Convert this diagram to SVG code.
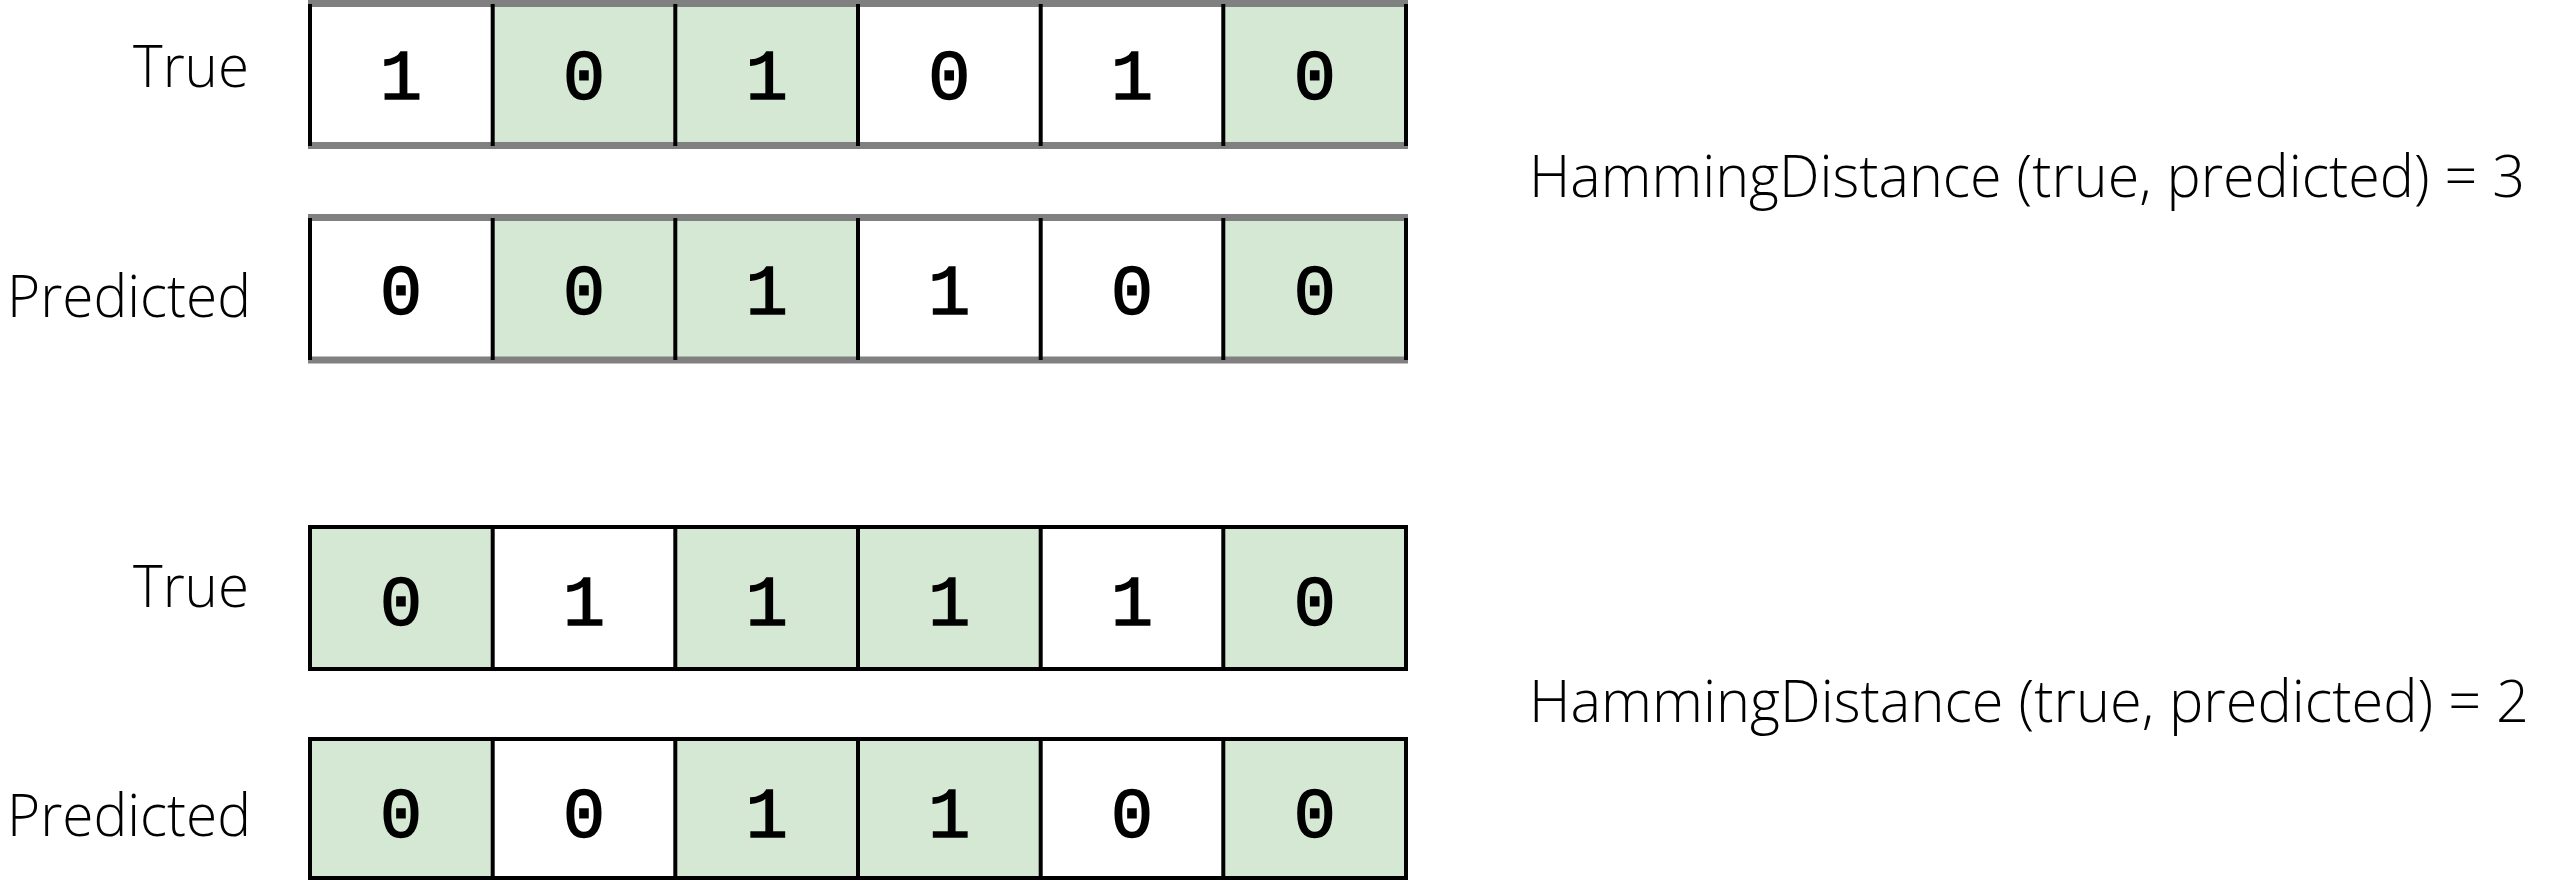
<svg xmlns="http://www.w3.org/2000/svg" width="2570" height="884" viewBox="0 0 2570 884">
<style>
.lbl{font-family:"Open Sans","Noto Sans","Liberation Sans",sans-serif;font-weight:300;font-size:58px;fill:#000}
.dig{font-family:"Liberation Mono","DejaVu Sans Mono",monospace;font-weight:normal;font-size:70px;fill:#000;stroke:#000;stroke-width:1.6;text-anchor:middle}
.g{fill:#d5e8d4}
.w{fill:#ffffff}
.vsep{stroke:#000;stroke-width:4}
.hg{stroke:#808080;stroke-width:7}
.box2{fill:none;stroke:#000;stroke-width:4}
</style>
<rect width="2570" height="884" fill="#fff"/>

<g id="group1-true">
<rect class="w" x="310" y="4" width="182.7" height="142"/>
<rect class="g" x="492.7" y="4" width="182.6" height="142"/>
<rect class="g" x="675.3" y="4" width="182.7" height="142"/>
<rect class="w" x="858" y="4" width="182.7" height="142"/>
<rect class="w" x="1040.7" y="4" width="182.6" height="142"/>
<rect class="g" x="1223.3" y="4" width="182.7" height="142"/>
<line class="hg" x1="308" y1="3.5" x2="1408" y2="3.5"/>
<line class="hg" x1="308" y1="145.5" x2="1408" y2="145.5"/>
<line class="vsep" x1="310" y1="4" x2="310" y2="146"/>
<line class="vsep" x1="492.7" y1="4" x2="492.7" y2="146"/>
<line class="vsep" x1="675.3" y1="4" x2="675.3" y2="146"/>
<line class="vsep" x1="858" y1="4" x2="858" y2="146"/>
<line class="vsep" x1="1040.7" y1="4" x2="1040.7" y2="146"/>
<line class="vsep" x1="1223.3" y1="4" x2="1223.3" y2="146"/>
<line class="vsep" x1="1406" y1="4" x2="1406" y2="146" stroke="#333"/>
<text class="lbl" x="133" y="87" textLength="116" lengthAdjust="spacingAndGlyphs">True</text>
<text class="dig" x="401" y="99">1</text>
<text class="dig" x="584" y="99">0</text>
<text class="dig" x="766.7" y="99">1</text>
<text class="dig" x="949.3" y="99">0</text>
<text class="dig" x="1132" y="99">1</text>
<text class="dig" x="1314.7" y="99">0</text>
</g>

<g id="group1-predicted">
<rect class="w" x="310" y="218" width="182.7" height="142"/>
<rect class="g" x="492.7" y="218" width="182.6" height="142"/>
<rect class="g" x="675.3" y="218" width="182.7" height="142"/>
<rect class="w" x="858" y="218" width="182.7" height="142"/>
<rect class="w" x="1040.7" y="218" width="182.6" height="142"/>
<rect class="g" x="1223.3" y="218" width="182.7" height="142"/>
<line class="hg" x1="308" y1="217.5" x2="1408" y2="217.5"/>
<line class="hg" x1="308" y1="360" x2="1408" y2="360"/>
<line class="vsep" x1="310" y1="218" x2="310" y2="360"/>
<line class="vsep" x1="492.7" y1="218" x2="492.7" y2="360"/>
<line class="vsep" x1="675.3" y1="218" x2="675.3" y2="360"/>
<line class="vsep" x1="858" y1="218" x2="858" y2="360"/>
<line class="vsep" x1="1040.7" y1="218" x2="1040.7" y2="360"/>
<line class="vsep" x1="1223.3" y1="218" x2="1223.3" y2="360"/>
<line class="vsep" x1="1406" y1="218" x2="1406" y2="360" stroke="#333"/>
<text class="lbl" x="7" y="317" textLength="244" lengthAdjust="spacingAndGlyphs">Predicted</text>
<text class="dig" x="401" y="314">0</text>
<text class="dig" x="584" y="314">0</text>
<text class="dig" x="766.7" y="314">1</text>
<text class="dig" x="949.3" y="314">1</text>
<text class="dig" x="1132" y="314">0</text>
<text class="dig" x="1314.7" y="314">0</text>
</g>

<g id="result1">
<text class="lbl" x="1529" y="197" textLength="996" lengthAdjust="spacingAndGlyphs">HammingDistance (true, predicted) = 3</text>
</g>

<g id="group2-true">
<rect class="g" x="310" y="527" width="182.7" height="142"/>
<rect class="w" x="492.7" y="527" width="182.6" height="142"/>
<rect class="g" x="675.3" y="527" width="182.7" height="142"/>
<rect class="g" x="858" y="527" width="182.7" height="142"/>
<rect class="w" x="1040.7" y="527" width="182.6" height="142"/>
<rect class="g" x="1223.3" y="527" width="182.7" height="142"/>
<rect class="box2" x="310" y="527" width="1096" height="142"/>
<line class="vsep" x1="492.7" y1="527" x2="492.7" y2="669"/>
<line class="vsep" x1="675.3" y1="527" x2="675.3" y2="669"/>
<line class="vsep" x1="858" y1="527" x2="858" y2="669"/>
<line class="vsep" x1="1040.7" y1="527" x2="1040.7" y2="669"/>
<line class="vsep" x1="1223.3" y1="527" x2="1223.3" y2="669"/>
<text class="lbl" x="133" y="607" textLength="116" lengthAdjust="spacingAndGlyphs">True</text>
<text class="dig" x="401" y="625">0</text>
<text class="dig" x="584" y="625">1</text>
<text class="dig" x="766.7" y="625">1</text>
<text class="dig" x="949.3" y="625">1</text>
<text class="dig" x="1132" y="625">1</text>
<text class="dig" x="1314.7" y="625">0</text>
</g>

<g id="group2-predicted">
<rect class="g" x="310" y="739" width="182.7" height="139"/>
<rect class="w" x="492.7" y="739" width="182.6" height="139"/>
<rect class="g" x="675.3" y="739" width="182.7" height="139"/>
<rect class="g" x="858" y="739" width="182.7" height="139"/>
<rect class="w" x="1040.7" y="739" width="182.6" height="139"/>
<rect class="g" x="1223.3" y="739" width="182.7" height="139"/>
<rect class="box2" x="310" y="739" width="1096" height="139"/>
<line class="vsep" x1="492.7" y1="739" x2="492.7" y2="878"/>
<line class="vsep" x1="675.3" y1="739" x2="675.3" y2="878"/>
<line class="vsep" x1="858" y1="739" x2="858" y2="878"/>
<line class="vsep" x1="1040.7" y1="739" x2="1040.7" y2="878"/>
<line class="vsep" x1="1223.3" y1="739" x2="1223.3" y2="878"/>
<text class="lbl" x="7" y="836" textLength="244" lengthAdjust="spacingAndGlyphs">Predicted</text>
<text class="dig" x="401" y="837">0</text>
<text class="dig" x="584" y="837">0</text>
<text class="dig" x="766.7" y="837">1</text>
<text class="dig" x="949.3" y="837">1</text>
<text class="dig" x="1132" y="837">0</text>
<text class="dig" x="1314.7" y="837">0</text>
</g>

<g id="result2">
<text class="lbl" x="1529" y="722" textLength="1000" lengthAdjust="spacingAndGlyphs">HammingDistance (true, predicted) = 2</text>
</g>

<g id="connectors"></g>
</svg>
